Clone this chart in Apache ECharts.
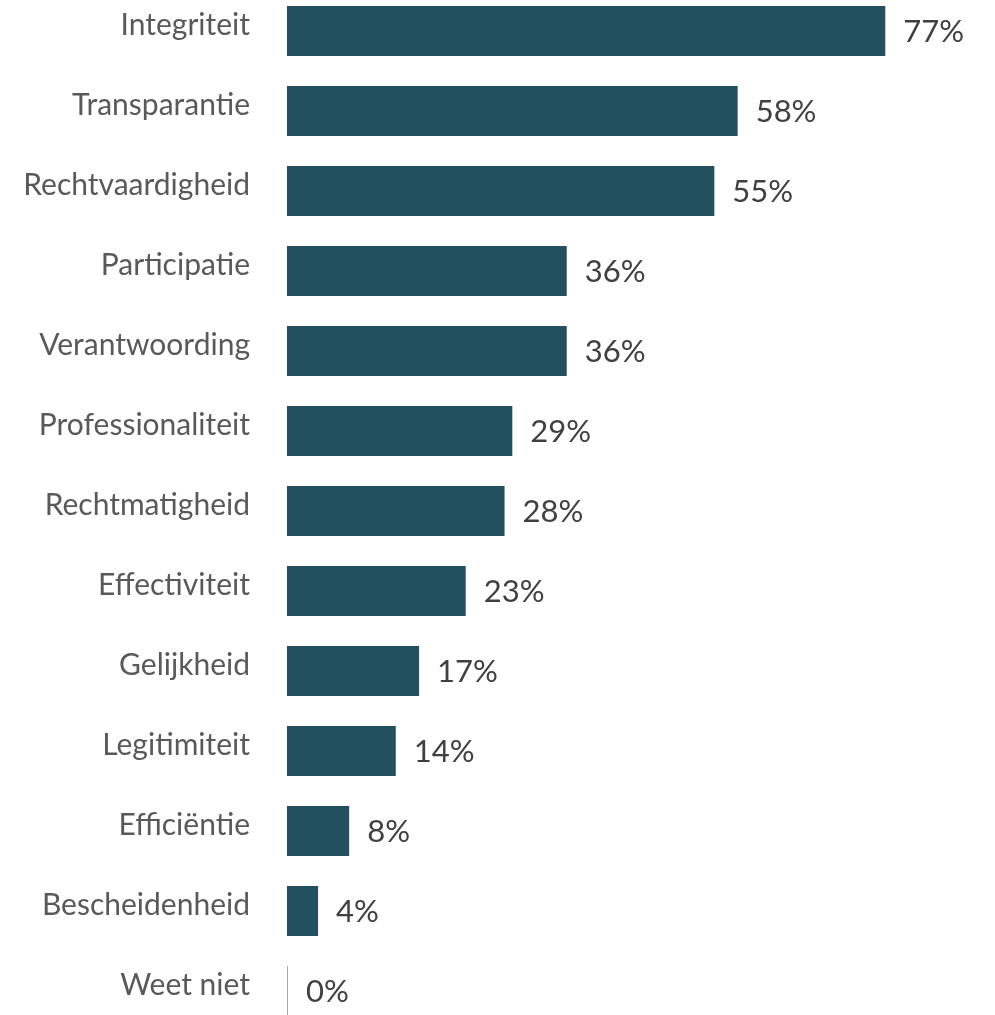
<!DOCTYPE html>
<html>
<head>
<meta charset="utf-8">
<script src="https://cdn.jsdelivr.net/npm/echarts@6/dist/echarts.min.js"></script>
<style>
  html, body { margin: 0; padding: 0; background: #fff; }
  #chart { width: 995px; height: 1015px; }
</style>
</head>
<body>
<div id="chart"></div>
<script>
// categories top to bottom
var categories = [
  'Integriteit', 'Transparantie', 'Rechtvaardigheid', 'Participatie',
  'Verantwoording', 'Professionaliteit', 'Rechtmatigheid', 'Effectiviteit',
  'Gelijkheid', 'Legitimiteit', 'Efficiëntie', 'Bescheidenheid', 'Weet niet'
];
var values = [77, 58, 55, 36, 36, 29, 28, 23, 17, 14, 8, 4, 0];

var chart = echarts.init(document.getElementById('chart'));

var barData = values.map(function (v) {
  if (v === 0) {
    return { value: v, itemStyle: { color: '#a6a6a6' } };
  }
  return v;
});

chart.setOption({
  animation: false,
  grid: {
    left: 287,
    top: -9,
    width: 777,
    height: 1040,
    outerBoundsMode: 'none',
    containLabel: false
  },
  xAxis: {
    type: 'value',
    min: 0,
    max: 100,
    show: false
  },
  yAxis: {
    type: 'category',
    inverse: true,
    data: categories,
    axisLine: { show: false },
    axisTick: { show: false },
    axisLabel: {
      margin: 37,
      fontFamily: 'Lato',
      fontSize: 30,
      color: '#595959',
      verticalAlign: 'bottom',
      lineHeight: 12
    }
  },
  series: [{
    type: 'bar',
    data: barData,
    barWidth: 50,
    barMinHeight: 1,
    itemStyle: { color: '#23505f' },
    label: {
      show: true,
      position: 'right',
      distance: 18,
      formatter: '{c}%',
      fontFamily: 'Lato',
      fontSize: 31,
      color: '#404040',
      offset: [0, 1]
    }
  }]
});
</script>
</body>
</html>
